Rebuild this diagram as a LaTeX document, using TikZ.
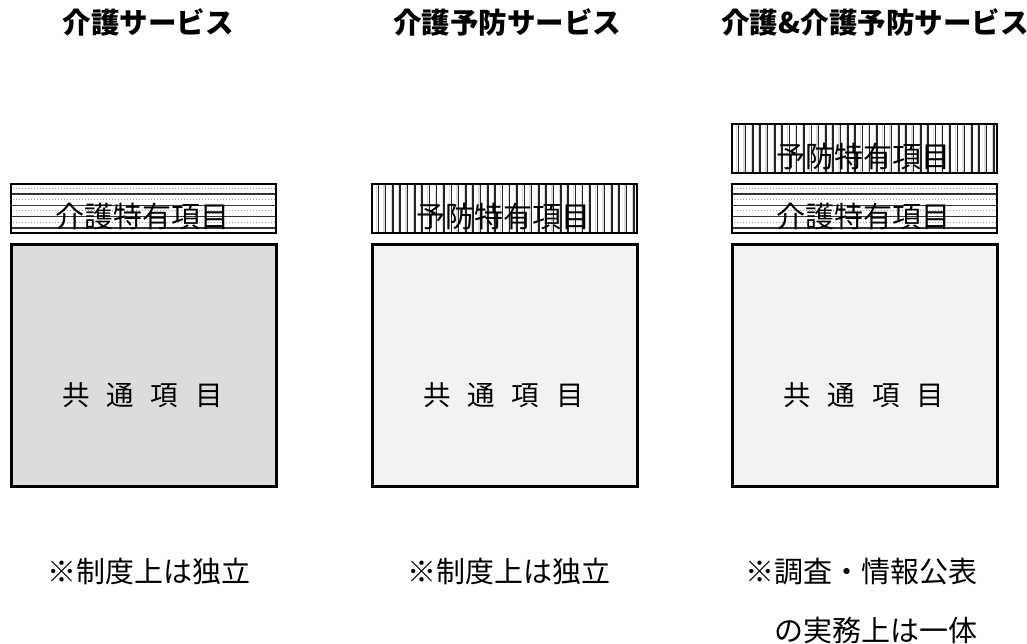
\documentclass[tikz,border=0pt]{standalone}
\usepackage{fontspec}
\newfontfamily\jp{Noto Sans CJK JP}
\usetikzlibrary{calc}
\definecolor{darkfill}{HTML}{DCDCDC}
\definecolor{lightfill}{HTML}{F2F2F2}
\tikzset{
  title/.style={font=\jp\bfseries\fontsize{28.5}{32}\selectfont, anchor=center, inner sep=0pt},
  tag/.style={font=\jp\fontsize{29}{32}\selectfont, anchor=center, inner sep=0pt},
  common/.style={font=\jp\fontsize{27.5}{30}\selectfont, anchor=center, inner sep=0pt},
  note/.style={font=\jp\fontsize{29}{32}\selectfont, inner sep=0pt},
  mainbox/.style={draw=black, line width=2.8pt},
}
% horizontal-line pattern box: x1,y1 (top-left), x2,y2, name
\newcommand{\horizbox}[5]{%
  \begin{scope}
    \clip (#1,#2) rectangle (#3,#4);
    \fill[white] (#1,#2) rectangle (#3,#4);
    \foreach \k in {1,...,8}{
      \pgfmathsetmacro{\yy}{#2+\k*5.6}
      \ifodd\k
        \draw[black!40, line width=1pt, dotted] (#1,\yy) -- (#3,\yy);
      \else
        \draw[black!80, line width=1.6pt] (#1,\yy) -- (#3,\yy);
      \fi
    }
  \end{scope}
  \node[draw=black, line width=2.2pt, minimum width=#3-#1, minimum height=#4-#2, anchor=north west, inner sep=0pt] (#5) at (#1,#2) {};
}
\newcommand{\vertbox}[5]{%
  \begin{scope}
    \clip (#1,#2) rectangle (#3,#4);
    \fill[white] (#1,#2) rectangle (#3,#4);
    \foreach \k in {1,...,36}{
      \pgfmathsetmacro{\xx}{#1+\k*7.3}
      \draw[black!15, line width=1.2pt] (\xx-1.6,#2) -- (\xx-1.6,#4);
      \draw[black!85, line width=1.5pt] (\xx,#2) -- (\xx,#4);
    }
  \end{scope}
  \node[draw=black, line width=2.2pt, minimum width=#3-#1, minimum height=#4-#2, anchor=north west, inner sep=0pt] (#5) at (#1,#2) {};
}
\newcommand{\commontext}{共\hspace{17pt}通\hspace{17pt}項\hspace{17pt}目}
\begin{document}
\begin{tikzpicture}[x=1pt,y=-1pt]
\useasboundingbox (0,0) rectangle (1027,644);
% titles
\node[title] (t1) at (148,22) {介護サービス};
\node[title] (t2) at (507,22) {介護予防サービス};
\node[title] (t3) at (875,22) {介護\&介護予防サービス};
% column 1
\horizbox{10}{183}{275}{232}{h1}
\node[tag] (l1) at (142.5,216) {介護特有項目};
\fill[darkfill] (10,243) rectangle (275,485);
\node[mainbox, minimum width=265pt, minimum height=242pt, anchor=north west] (m1) at (10,243) {};
\node[common] (c1) at (142.5,395) {\commontext};
% column 2
\vertbox{371}{183}{636}{232}{v2}
\node[tag] (l2) at (503.5,216) {予防特有項目};
\fill[lightfill] (371,243) rectangle (636,485);
\node[mainbox, minimum width=265pt, minimum height=242pt, anchor=north west] (m2) at (371,243) {};
\node[common] (c2) at (503.5,395) {\commontext};
% column 3
\vertbox{731}{123}{996}{172}{v3}
\node[tag] (l3a) at (863.5,156) {予防特有項目};
\horizbox{731}{183}{996}{232}{h3}
\node[tag] (l3b) at (863.5,216) {介護特有項目};
\fill[lightfill] (731,243) rectangle (996,485);
\node[mainbox, minimum width=265pt, minimum height=242pt, anchor=north west] (m3) at (731,243) {};
\node[common] (c3) at (863.5,395) {\commontext};
% notes
\node[note, anchor=center] (n1) at (149,572) {※制度上は独立};
\node[note, anchor=center] (n2) at (509,572) {※制度上は独立};
\node[note, anchor=east] (n3) at (978,572) {※調査・情報公表};
\node[note, anchor=east] (n4) at (978,630) {の実務上は一体};
\end{tikzpicture}
\end{document}
